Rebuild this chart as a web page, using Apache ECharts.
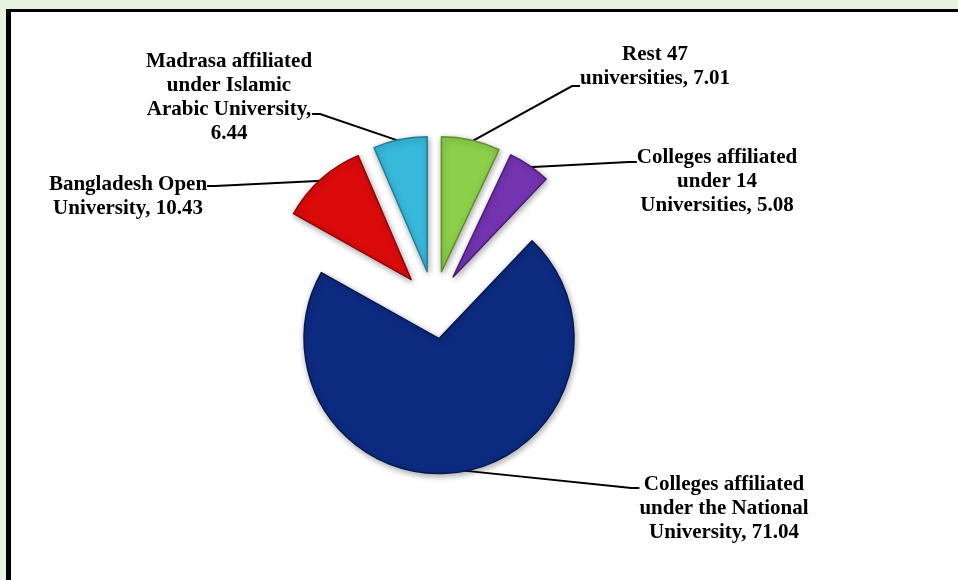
<!DOCTYPE html>
<html>
<head>
<meta charset="utf-8">
<script src="https://cdn.jsdelivr.net/npm/echarts@6/dist/echarts.min.js"></script>
<style>
  html, body { margin: 0; padding: 0; background: #e6f4df; }
  #frame {
    position: absolute; left: 6px; top: 9px; width: 952px; height: 571px;
    background: #fff; border-left: 5px solid #000; border-top: 3px solid #000;
    box-sizing: border-box;
  }
  #main { position: absolute; left: 0; top: 0; width: 958px; height: 580px; }
</style>
</head>
<body>
<div id="frame"></div>
<div id="main"></div>
<script>
var chartDom = document.getElementById('main');
var myChart = echarts.init(chartDom);

// categories, clockwise from 12 o'clock
var categories = [
    'Rest 47\nuniversities',
    'Colleges affiliated\nunder 14\nUniversities',
    'Colleges affiliated\nunder the National\nUniversity',
    'Bangladesh Open\nUniversity',
    'Madrasa affiliated\nunder Islamic\nArabic University,\n'
]
var shares = [7.01, 5.08, 71.04, 10.43, 6.44]
var colors = ['#8ccf4a', '#7434b0', '#0c2a80', '#dc0b0b', '#37b9dc']
var edgeColors = ['#5e8f2c', '#4a1d75', '#061850', '#8e0505', '#1f7f99']

// label anchor (x = text center, y = where the leader line meets it)
var labelSpots = [
    [655, 86],
    [717, 162],
    [724, 488],
    [128, 186],
    [229, 114]
]
// empty space above / below the text so the leader line meets the right row
var spaceTop = [0, 40, 41, 22, 0]
var spaceBottom = [38, 0, 0, 0, 32]

var pieCenter = [434, 305]
var pieRadius = 135
var explode = 34

var slices = categories.map(function (name, i) {
    return {
        name: name,
        value: shares[i],
        selected: true,
        itemStyle: { color: colors[i], borderColor: edgeColors[i] }
    }
})

// invisible copy that only carries the labels and leader lines
var labelItems = categories.map(function (name, i) {
    return {
        name: name,
        value: shares[i],
        label: {
            rich: {
                t: { lineHeight: spaceTop[i], fontSize: 2 },
                b: { lineHeight: spaceBottom[i], fontSize: 2 }
            }
        }
    }
})

var option = {
    animation: false,
    series: [{
        type: 'pie',
        center: pieCenter,
        radius: [0, pieRadius],
        startAngle: 90,
        selectedMode: 'multiple',
        selectedOffset: explode,
        emphasis: { disabled: true },
        silent: true,
        data: slices,
        itemStyle: {
            borderWidth: 1.5,
            shadowBlur: 6,
            shadowColor: 'rgba(0,0,0,0.35)',
            shadowOffsetX: 1,
            shadowOffsetY: 2
        },
        label: { show: false },
        labelLine: { show: false }
    }, {
        type: 'pie',
        center: pieCenter,
        radius: [pieRadius + explode - 12, pieRadius + explode - 2],
        startAngle: 90,
        emphasis: { disabled: true },
        silent: true,
        data: labelItems,
        itemStyle: { color: 'rgba(0,0,0,0)' },
        label: {
            show: true,
            position: 'outside',
            formatter: function (p) {
                var i = p.dataIndex
                var sep = i === 4 ? '' : ', '
                var txt = p.name + sep + p.value.toFixed(2)
                if (spaceTop[i]) txt = '{t| }\n' + txt
                if (spaceBottom[i]) txt = txt + '\n{b| }'
                return txt
            },
            fontFamily: '"Liberation Serif", "Times New Roman", serif',
            fontWeight: 'bold',
            fontSize: 21,
            lineHeight: 24,
            color: '#000'
        },
        labelLine: {
            show: true,
            length: 15,
            length2: 8,
            lineStyle: { color: '#000', width: 2 }
        },
        labelLayout: function (params) {
            var spot = labelSpots[params.dataIndex]
            return {
                x: spot[0],
                y: spot[1],
                align: 'center',
                verticalAlign: 'middle'
            }
        }
    }]
};
option && myChart.setOption(option);
</script>
</body>
</html>
